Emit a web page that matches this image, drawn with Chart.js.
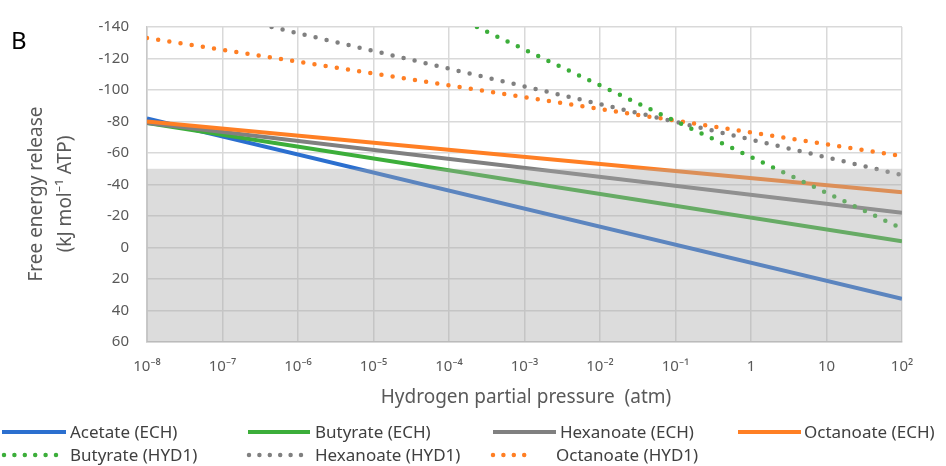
<!DOCTYPE html>
<html lang="en">
<head>
<meta charset="utf-8">
<script src="https://cdn.jsdelivr.net/npm/chart.js"></script>
<title>Free energy release vs H2 partial pressure</title>
<style>
  html, body { margin: 0; padding: 0; background: #fff; }
  .chart-box { position: relative; width: 946px; height: 466px; }
</style>
</head>
<body>
<div class="chart-box"><canvas id="energyChart"></canvas></div>
<script>
// x = log10 of hydrogen partial pressure (atm), y = kJ per mol ATP
const decades = [-8, -7, -6, -5, -4, -3, -2, -1, 0, 1, 2];
const decadeLabels = ['10⁻⁸', '10⁻⁷', '10⁻⁶', '10⁻⁵', '10⁻⁴', '10⁻³', '10⁻²', '10⁻¹', '1', '10', '10²'];
const yTicks = [-140, -120, -100, -80, -60, -40, -20, 0, 20, 40, 60];
const shadedBand = [-50, 60];

// [log10 pH2, free energy]
const acetateECH = [[-8, -82], [2, 32.5]];
const butyrateECH = [[-8, -79], [2, -4]];
const hexanoateECH = [[-8, -79], [2, -22]];
const octanoateECH = [[-8, -80], [2, -35]];
const butyrateHYD1 = [[-3.63, -140], [2, -12]];
const hexanoateHYD1 = [[-6.35, -140], [2, -46]];
const octanoateHYD1 = [[-8, -133], [2, -58]];

const seriesNames = ['Acetate (ECH)', 'Butyrate (ECH)', 'Hexanoate (ECH)', 'Octanoate (ECH)',
                     'Butyrate (HYD1)', 'Hexanoate (HYD1)', 'Octanoate (HYD1)'];
const seriesData = [acetateECH, butyrateECH, hexanoateECH, octanoateECH,
                    butyrateHYD1, hexanoateHYD1, octanoateHYD1];
const seriesColors = ['#2b6fcf', '#3cae3a', '#808080', '#ff7f24', '#3cae3a', '#808080', '#ff7f24'];
const dotted = [false, false, false, false, true, true, true];
const drawOrder = [7, 6, 5, 4, 1, 2, 3];

const FONT = "'Noto Sans', 'DejaVu Sans', sans-serif";
const TEXT = '#595959';

const datasets = seriesNames.map((name, i) => ({
    label: name,
    data: seriesData[i].map(p => ({ x: p[0], y: p[1] })),
    borderColor: seriesColors[i],
    backgroundColor: seriesColors[i],
    borderWidth: dotted[i] ? 4.5 : 4,
    borderDash: dotted[i] ? [0, 11.3] : [],
    borderCapStyle: dotted[i] ? 'round' : 'butt',
    pointRadius: 0,
    tension: 0,
    order: drawOrder[i]
}));

// grey "unfavourable" band laid over the lines, like the original
const bandPlugin = {
    id: 'band',
    afterDatasetsDraw(chart) {
        const { ctx, chartArea, scales } = chart;
        const y1 = scales.y.getPixelForValue(shadedBand[0]);
        const y2 = scales.y.getPixelForValue(shadedBand[1]);
        ctx.save();
        ctx.fillStyle = 'rgba(168,168,168,0.4)';
        ctx.fillRect(chartArea.left, y1, chartArea.right - chartArea.left, y2 - y1);
        ctx.restore();
    }
};

const decorPlugin = {
    id: 'decor',
    afterDraw(chart) {
        const ctx = chart.ctx;
        ctx.save();
        // panel letter
        ctx.fillStyle = '#000';
        ctx.font = '24px ' + FONT;
        ctx.textBaseline = 'middle';
        ctx.textAlign = 'left';
        ctx.fillText('B', 11, 42);

        // axis titles
        ctx.fillStyle = TEXT;
        ctx.font = '19px ' + FONT;
        ctx.textAlign = 'center';
        ctx.fillText('Hydrogen partial pressure  (atm)', 526, 398);
        ctx.save();
        ctx.translate(37, 194);
        ctx.rotate(-Math.PI / 2);
        ctx.fillText('Free energy release', 0, 0);
        ctx.fillText('(kJ mol⁻¹ ATP)', 0, 29);
        ctx.restore();

        // legend, two rows like the original
        const slots = [
            [2, 432, 64, 70], [248, 432, 62, 315], [493, 432, 63, 560], [738, 432, 63, 804],
            [4, 455, 52, 70], [249, 455, 57, 315], [493, 455, 40, 556]
        ];
        ctx.font = '17px ' + FONT;
        ctx.textAlign = 'left';
        chart.data.datasets.forEach((ds, i) => {
            const s = slots[i];
            ctx.beginPath();
            ctx.strokeStyle = ds.borderColor;
            ctx.lineWidth = dotted[i] ? 4.5 : 4;
            ctx.lineCap = dotted[i] ? 'round' : 'butt';
            ctx.setLineDash(dotted[i] ? [0, 10.4] : []);
            ctx.moveTo(s[0], s[1]);
            ctx.lineTo(s[0] + s[2], s[1]);
            ctx.stroke();
            ctx.fillStyle = '#404040';
            ctx.fillText(ds.label, s[3], s[1] + 1);
        });
        ctx.restore();
    }
};

const ctx = document.getElementById('energyChart').getContext('2d');
const energyChart = new Chart(ctx, {
    type: 'line',
    data: { datasets: datasets },
    options: {
        responsive: true,
        maintainAspectRatio: false,
        animation: false,
        layout: { padding: { top: 22, right: 44, bottom: 0, left: 0 } },
        plugins: { legend: { display: false }, tooltip: { enabled: false } },
        scales: {
            x: {
                type: 'linear',
                min: decades[0],
                max: decades[decades.length - 1],
                afterBuildTicks: s => { s.ticks = decades.map(v => ({ value: v })); },
                afterFit: s => { s.height = 124; },
                grid: { color: '#d9d9d9', lineWidth: 1.5, drawTicks: false },
                border: { color: '#c8c8c8', width: 1.5 },
                ticks: {
                    padding: 16,
                    maxRotation: 0,
                    color: TEXT,
                    font: { family: FONT, size: 15 },
                    callback: v => decadeLabels[decades.indexOf(v)]
                }
            },
            y: {
                reverse: true,
                min: yTicks[0],
                max: yTicks[yTicks.length - 1],
                afterBuildTicks: s => { s.ticks = yTicks.map(v => ({ value: v })); },
                afterFit: s => { s.width = 147; },
                grid: { color: '#d9d9d9', lineWidth: 1.5, drawTicks: false },
                border: { color: '#c8c8c8', width: 1.5 },
                ticks: {
                    padding: 18,
                    color: TEXT,
                    font: { family: FONT, size: 15 }
                }
            }
        }
    },
    plugins: [bandPlugin, decorPlugin]
});
</script>
</body>
</html>
